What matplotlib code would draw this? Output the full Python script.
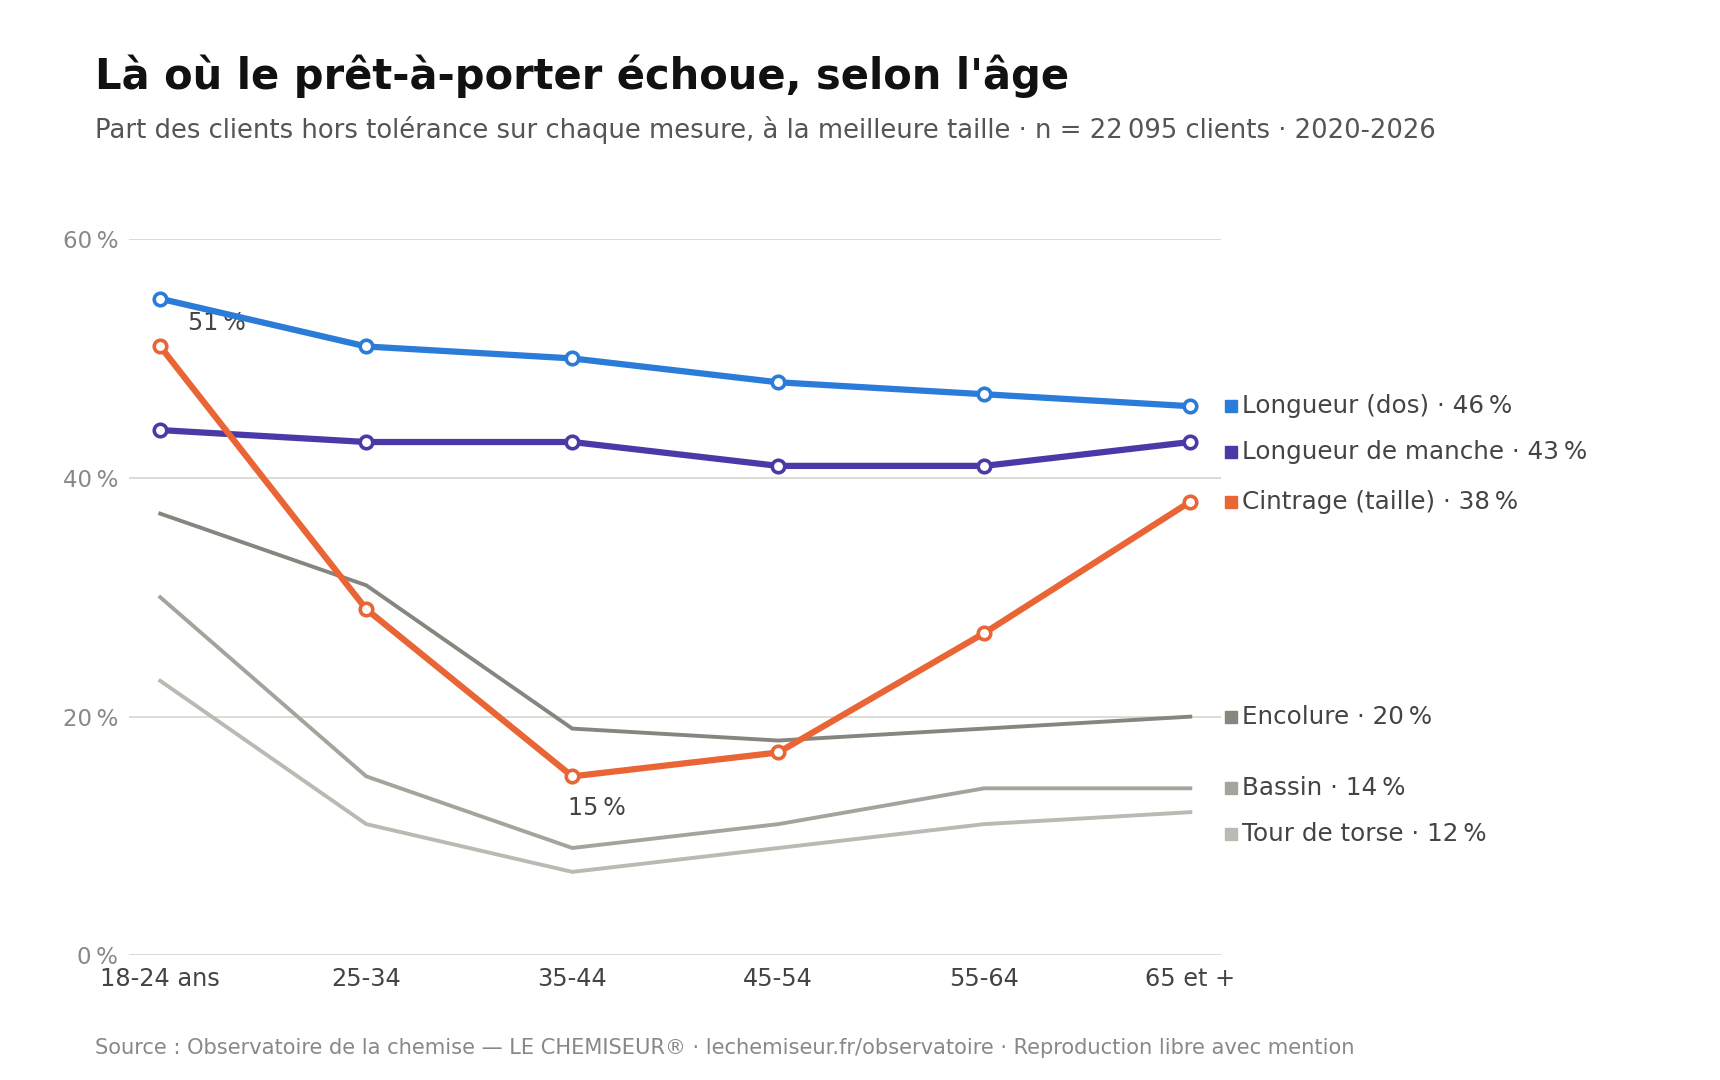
import numpy as np
import matplotlib.pyplot as plt

plt.rcParams['font.family'] = ['DejaVu Sans']

ages = ["18-24 ans", "25-34", "35-44", "45-54", "55-64", "65 et +"]

longueur_dos = [55, 51, 50, 48, 47, 46]
longueur_manche = [44, 43, 43, 41, 41, 43]
cintrage = [51, 29, 15, 17, 27, 38]
encolure = [37, 31, 19, 18, 19, 20]
bassin = [30, 15, 9, 11, 14, 14]
tour_torse = [23, 11, 7, 9, 11, 12]

names = ["Longueur (dos)", "Longueur de manche", "Cintrage (taille)",
         "Encolure", "Bassin", "Tour de torse"]
colors = ["#2b7bd9", "#4a3aa8", "#e96535", "#86857e", "#a5a49c", "#bab9b2"]
highlight = [True, True, True, False, False, False]
series = [longueur_dos, longueur_manche, cintrage, encolure, bassin, tour_torse]

fig = plt.figure(figsize=(17.2, 10.8), dpi=100)
ax = fig.add_axes([0.0752, 0.1153, 0.6348, 0.6634])

x = np.arange(len(ages))

# gray lines first, highlighted on top
order = [3, 4, 5, 1, 0, 2]
for i in order:
    if highlight[i]:
        ax.plot(x, series[i], color=colors[i], lw=4.5, marker='o', ms=9,
                mfc='white', mec=colors[i], mew=2.6, zorder=4, clip_on=False)
    else:
        ax.plot(x, series[i], color=colors[i], lw=2.8, zorder=3, clip_on=False)

ax.set_xlim(-0.15, 5.15)
ax.set_ylim(0, 60)
ax.set_yticks([0, 20, 40, 60])
ax.set_yticklabels([f"{v}\u202f%" for v in [0, 20, 40, 60]])
ax.set_xticks(x)
ax.set_xticklabels(ages)
ax.grid(axis='y', color='#dcdad4', lw=1.4)
ax.set_axisbelow(True)
for s in ax.spines.values():
    s.set_visible(False)
ax.tick_params(axis='both', length=0)
ax.tick_params(axis='y', labelsize=16.5, labelcolor='#888888', pad=8)
ax.tick_params(axis='x', labelsize=17.3, labelcolor='#444444', pad=8)

# end labels with simple dodge
last = [s[-1] for s in series]
idx = sorted(range(len(series)), key=lambda k: -last[k])
pos = {}
prev = None
gap = 3.85
for k in idx:
    y = last[k]
    if prev is not None and prev - y < gap:
        y = prev - gap
    pos[k] = y
    prev = y

for k in range(len(series)):
    ax.plot(5.197, pos[k], marker='s', ms=8, color=colors[k], clip_on=False, zorder=5)
    ax.annotate(f"{names[k]} · {last[k]}\u202f%", xy=(5.197, pos[k]),
                xytext=(8, 0), textcoords='offset points',
                ha='left', va='center', fontsize=17.7, color='#444444',
                annotation_clip=False)

# callouts
ax.annotate("51\u202f%", xy=(0, cintrage[0]), xytext=(20, 17),
            textcoords='offset points', ha='left', va='center',
            fontsize=17.2, color='#444444')
ax.annotate("15\u202f%", xy=(2, cintrage[2]), xytext=(-3, -23),
            textcoords='offset points', ha='left', va='center',
            fontsize=17.2, color='#444444')

fig.text(0.0555, 0.929, "Là où le prêt-à-porter échoue, selon l'âge",
         fontsize=30, fontweight='bold', color='#111111', va='center')
fig.text(0.0555, 0.880,
         "Part des clients hors tolérance sur chaque mesure, à la meilleure taille · "
         "n = 22\u202f095 clients · 2020-2026",
         fontsize=18.6, color='#555555', va='center')
fig.text(0.0555, 0.030,
         "Source : Observatoire de la chemise — LE CHEMISEUR® · "
         "lechemiseur.fr/observatoire · Reproduction libre avec mention",
         fontsize=15.1, color='#888888', va='center')

fig.savefig("out.png", dpi=100)
